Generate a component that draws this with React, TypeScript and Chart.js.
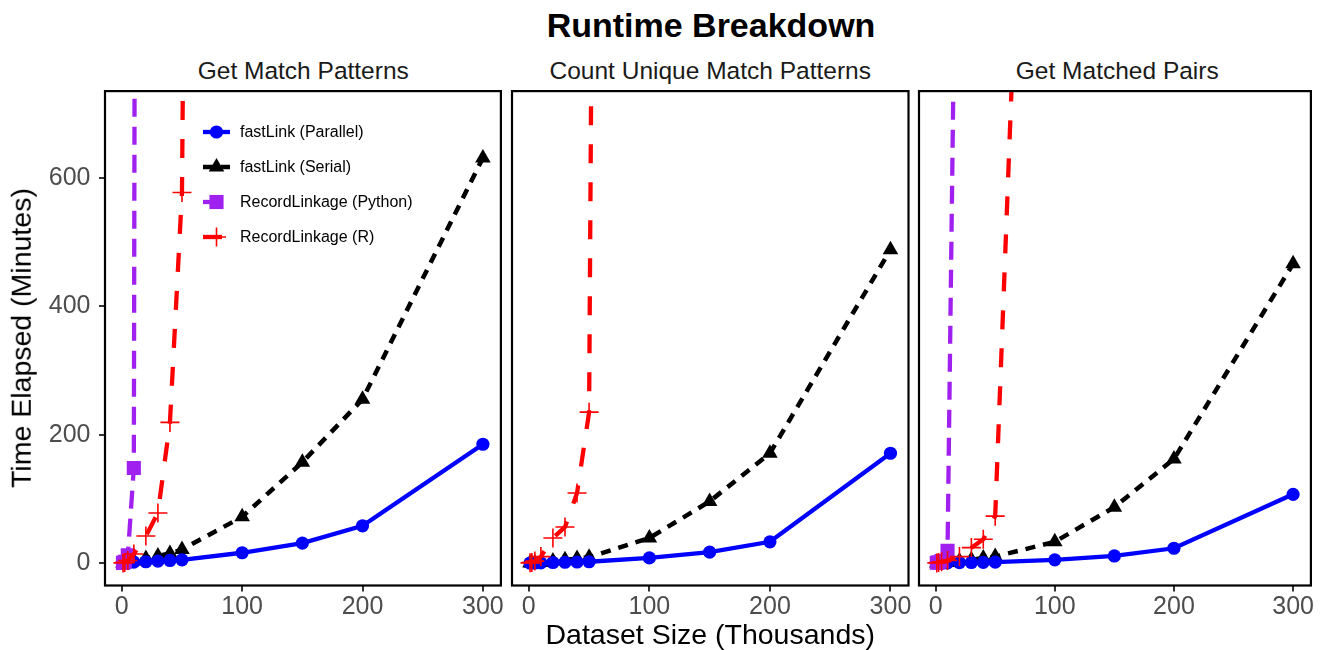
import React, { useEffect, useRef } from 'react';
import { Chart, registerables } from 'chart.js';

Chart.register(...registerables);

const FONT = '"Liberation Sans", Arial, Helvetica, sans-serif';

// ---------- text ----------
const chartTitle = 'Runtime Breakdown';
const xAxisTitle = 'Dataset Size (Thousands)';
const yAxisTitle = 'Time Elapsed (Minutes)';
const panelTitles = ['Get Match Patterns', 'Count Unique Match Patterns', 'Get Matched Pairs'];
const seriesNames = ['fastLink (Parallel)', 'fastLink (Serial)', 'RecordLinkage (Python)', 'RecordLinkage (R)'];

// ---------- data ----------
const datasetSizes = [1, 2.5, 5, 10, 20, 30, 40, 50, 100, 150, 200, 300];
const xTickValues = [0, 100, 200, 300];
const yTickValues = [0, 200, 400, 600];

// Get Match Patterns
const matchParallel = [0.05, 0.1, 0.3, 1.5, 2, 3, 4, 5, 16, 31, 58, 185];
const matchSerial = [0.1, 0.3, 0.8, 3, 7, 11, 15, 21, 72, 157, 255, 631];
const matchPython = [0.3, 2, 12, 148, 10000, null, null, null, null, null, null, null];
const matchR = [0.2, 1, 4, 14, 42, 78, 219, 577, 12000, null, null, null];

// Count Unique Match Patterns
const countParallel = [0.02, 0.05, 0.1, 0.3, 0.8, 1.2, 1.6, 2, 8, 17, 33, 171];
const countSerial = [0.05, 0.1, 0.3, 1, 3, 5, 7, 9, 39, 96, 171, 488];
const countPython = [null, null, null, null, null, null, null, null, null, null, null, null];
const countR = [0.3, 1, 3, 10, 39, 56, 109, 235, 15000, null, null, null];

// Get Matched Pairs
const pairsParallel = [0.02, 0.05, 0.1, 0.3, 0.5, 0.8, 1.1, 1.4, 5, 11, 23, 107];
const pairsSerial = [0.05, 0.1, 0.3, 1, 3, 5, 8, 10, 33, 87, 162, 466];
const pairsPython = [0.5, 1, 3, 19, 1500, null, null, null, null, null, null, null];
const pairsR = [0.2, 0.8, 2, 4, 10, 24, 37, 73, 2500, null, null, null];

const panelSeries = [
  [matchParallel, matchSerial, matchPython, matchR],
  [countParallel, countSerial, countPython, countR],
  [pairsParallel, pairsSerial, pairsPython, pairsR],
];

// ---------- styles / layout ----------
const seriesStyles = [
  { color: '#0000FF', width: 4.3, dash: [] as number[], point: 'circle', radius: 6.6, pbw: 0 },
  { color: '#000000', width: 4.5, dash: [10, 8], point: 'triangle', radius: 9, pbw: 0 },
  { color: '#A020F0', width: 4.3, dash: [18, 10], point: 'rect', radius: 10, pbw: 0 },
  { color: '#FF0000', width: 4.3, dash: [19, 19], point: 'cross', radius: 9.5, pbw: 1.6 },
];

const X_MIN = -13.95;
const X_MAX = 314.95;
const Y_MIN = -35;
const Y_MAX = 735;

const PLOT_TOP = 90;
const PLOT_BOTTOM = 585.5;
const CANVAS_TOP = 80;
const CANVAS_H = 545;

// page coordinates of each panel's plotting area and its canvas
const panelLayouts = [
  { left: 0, w: 512, plotLeft: 105, plotRight: 501.5, yAxisW: 105 },
  { left: 482, w: 438, plotLeft: 512, plotRight: 908.5, yAxisW: 0 },
  { left: 889, w: 433, plotLeft: 919, plotRight: 1315.5, yAxisW: 0 },
];

function drawMarker(ctx: CanvasRenderingContext2D, style: string, x: number, y: number, r: number, color: string, bw: number) {
  ctx.save();
  ctx.fillStyle = color;
  ctx.strokeStyle = color;
  ctx.setLineDash([]);
  ctx.beginPath();
  if (style === 'circle') {
    ctx.arc(x, y, r, 0, Math.PI * 2);
    ctx.fill();
  } else if (style === 'triangle') {
    ctx.moveTo(x, y - r);
    ctx.lineTo(x + r * 0.866, y + r / 2);
    ctx.lineTo(x - r * 0.866, y + r / 2);
    ctx.closePath();
    ctx.fill();
  } else if (style === 'rect') {
    const s = r * Math.SQRT1_2;
    ctx.rect(x - s, y - s, 2 * s, 2 * s);
    ctx.fill();
  } else {
    ctx.lineWidth = bw;
    ctx.moveTo(x - r, y);
    ctx.lineTo(x + r, y);
    ctx.moveTo(x, y - r);
    ctx.lineTo(x, y + r);
    ctx.stroke();
  }
  ctx.restore();
}

const framePlugin = {
  id: 'frame',
  afterDatasetsDraw(chart: any) {
    const { ctx, chartArea: a } = chart;
    ctx.save();
    ctx.strokeStyle = '#000000';
    ctx.lineWidth = 2.2;
    ctx.setLineDash([]);
    ctx.strokeRect(a.left, a.top, a.right - a.left, a.bottom - a.top);
    ctx.restore();
  },
};

const legendPlugin = {
  id: 'innerLegend',
  afterDraw(chart: any) {
    const ctx: CanvasRenderingContext2D = chart.ctx;
    const rowsPage = [132, 167, 202, 237];
    seriesNames.forEach((name, i) => {
      const st = seriesStyles[i];
      const y = rowsPage[i] - CANVAS_TOP;
      ctx.save();
      ctx.strokeStyle = st.color;
      ctx.lineWidth = st.width;
      ctx.setLineDash(st.dash);
      ctx.beginPath();
      ctx.moveTo(203, y);
      ctx.lineTo(230, y);
      ctx.stroke();
      ctx.restore();
      drawMarker(ctx, st.point, 216.5, y, st.radius, st.color, st.pbw);
      ctx.save();
      ctx.fillStyle = '#000000';
      ctx.font = `16px ${FONT}`;
      ctx.textBaseline = 'middle';
      ctx.textAlign = 'left';
      ctx.fillText(name, 240, y + 1);
      ctx.restore();
    });
  },
};

function Panel({ idx }: { idx: number }) {
  const ref = useRef<HTMLCanvasElement>(null);
  const lay = panelLayouts[idx];
  useEffect(() => {
    const series = panelSeries[idx];
    const order = [3, 2, 0, 1];
    const datasets = order
      .filter((si) => series[si].some((v) => v !== null))
      .map((si) => {
        const st = seriesStyles[si];
        return {
          label: seriesNames[si],
          data: datasetSizes.map((x, k) => ({ x, y: series[si][k] })),
          borderColor: st.color,
          backgroundColor: st.color,
          borderWidth: st.width,
          borderDash: st.dash,
          pointStyle: st.point,
          pointRadius: st.radius,
          pointBackgroundColor: st.color,
          pointBorderColor: st.color,
          pointBorderWidth: st.pbw,
          tension: 0,
          fill: false,
          spanGaps: false,
          clip: 0,
        };
      });
    const plugins: any[] = [framePlugin];
    if (idx === 0) plugins.push(legendPlugin);
    const targetLeft = lay.plotLeft - lay.left;
    const targetRight = lay.plotRight - lay.left;
    const padding = {
      left: targetLeft - lay.yAxisW,
      right: lay.w - targetRight,
      top: PLOT_TOP - CANVAS_TOP,
      bottom: 0,
    };
    const chart = new Chart(ref.current as HTMLCanvasElement, {
      type: 'line',
      data: { datasets: datasets as any },
      plugins,
      options: {
        responsive: false,
        maintainAspectRatio: false,
        animation: false,
        events: [],
        layout: { padding },
        plugins: {
          legend: { display: false },
          tooltip: { enabled: false },
          title: { display: false },
        },
        scales: {
          x: {
            type: 'linear',
            min: X_MIN,
            max: X_MAX,
            afterBuildTicks: (s: any) => {
              s.ticks = xTickValues.map((v) => ({ value: v }));
            },
            afterFit: (s: any) => {
              s.height = CANVAS_TOP + CANVAS_H - PLOT_BOTTOM;
              s.paddingLeft = 0;
              s.paddingRight = 0;
            },
            grid: {
              display: true,
              drawOnChartArea: false,
              drawTicks: true,
              tickLength: 6,
              color: '#333333',
              lineWidth: 2,
            },
            border: { display: false },
            ticks: {
              color: '#4D4D4D',
              font: { size: 25, family: FONT, lineHeight: 1 },
              padding: 3,
              maxRotation: 0,
              autoSkip: false,
            },
          },
          y: {
            type: 'linear',
            display: idx === 0,
            min: Y_MIN,
            max: Y_MAX,
            afterBuildTicks: (s: any) => {
              s.ticks = yTickValues.map((v) => ({ value: v }));
            },
            afterFit: (s: any) => {
              s.width = lay.yAxisW;
              s.paddingTop = 0;
              s.paddingBottom = 0;
            },
            grid: {
              display: idx === 0,
              drawOnChartArea: false,
              drawTicks: idx === 0,
              tickLength: 6,
              color: '#333333',
              lineWidth: 2,
            },
            border: { display: false },
            ticks: {
              display: idx === 0,
              color: '#4D4D4D',
              font: { size: 25, family: FONT, lineHeight: 1 },
              padding: 8.5,
            },
          },
        },
      } as any,
    });
    // correct any automatic layout offsets so the plot area lands exactly where intended
    const a = chart.chartArea;
    const dl = targetLeft - a.left;
    const dr = a.right - targetRight;
    const dt = PLOT_TOP - CANVAS_TOP - a.top;
    if (Math.abs(dl) > 0.05 || Math.abs(dr) > 0.05 || Math.abs(dt) > 0.05) {
      padding.left += dl;
      padding.right += dr;
      padding.top += dt;
      chart.update();
    }
    return () => chart.destroy();
  }, [idx]);
  return (
    <canvas
      ref={ref}
      width={lay.w}
      height={CANVAS_H}
      style={{ position: 'absolute', left: lay.left, top: CANVAS_TOP, width: lay.w, height: CANVAS_H }}
    />
  );
}

function TextAt({ text, cx, baseline, size, weight, color }: any) {
  return (
    <div
      style={{
        position: 'absolute',
        left: cx,
        top: baseline - 0.8465 * size,
        transform: 'translateX(-50%)',
        fontSize: size,
        lineHeight: `${size}px`,
        fontWeight: weight || 'normal',
        color: color || '#000',
        whiteSpace: 'nowrap',
        fontFamily: FONT,
      }}
    >
      {text}
    </div>
  );
}

const panelCenters = [303.25, 710.25, 1117.25];

export default function App() {
  return (
    <div
      style={{
        position: 'absolute',
        left: 0,
        top: 0,
        width: 1322,
        height: 650,
        background: '#ffffff',
        overflow: 'hidden',
        fontFamily: FONT,
      }}
    >
      <TextAt text={chartTitle} cx={711} baseline={37} size={34} weight="bold" color="#000" />
      {panelTitles.map((t, i) => (
        <TextAt key={t} text={t} cx={panelCenters[i]} baseline={80} size={24.5} color="#1A1A1A" />
      ))}
      <Panel idx={0} />
      <Panel idx={1} />
      <Panel idx={2} />
      <TextAt text={xAxisTitle} cx={710.25} baseline={644} size={28.5} color="#000" />
      <div
        style={{
          position: 'absolute',
          left: 21.1,
          top: (PLOT_TOP + PLOT_BOTTOM) / 2,
          transform: 'translate(-50%, -50%) rotate(-90deg)',
          fontSize: 28.5,
          lineHeight: '28.5px',
          whiteSpace: 'nowrap',
          color: '#000',
          fontFamily: FONT,
        }}
      >
        {yAxisTitle}
      </div>
    </div>
  );
}
